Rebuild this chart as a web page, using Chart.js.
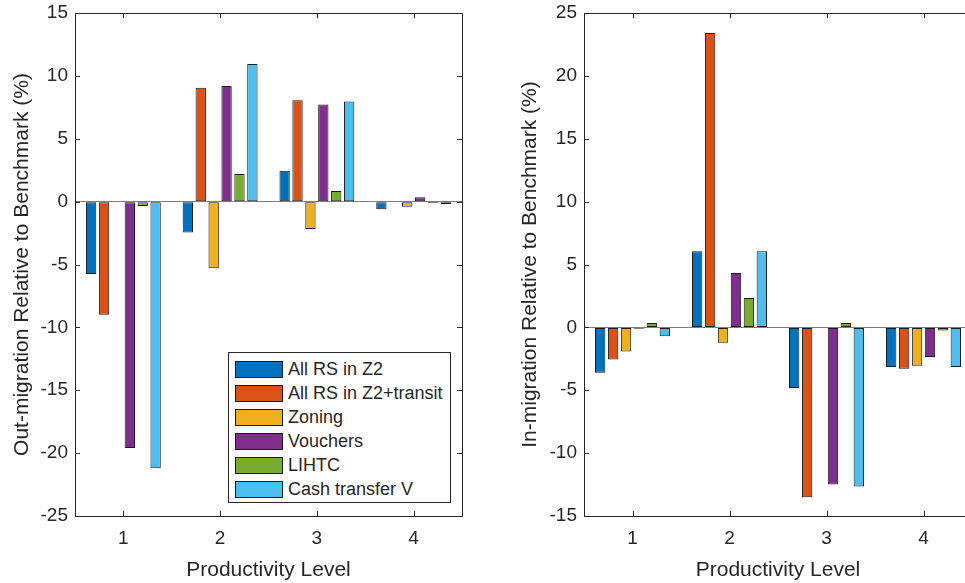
<!DOCTYPE html>
<html lang="en">
<head>
    <meta charset="UTF-8">
    <title>Migration Relative to Benchmark</title>
    <script src="https://cdn.jsdelivr.net/npm/chart.js"></script>
    <style>
        html, body { margin: 0; padding: 0; background: #fff; overflow: hidden; }
        body { width: 965px; height: 583px; position: relative; font-family: 'Liberation Sans', Arial, sans-serif; }
        .panel { position: absolute; top: 0; height: 583px; }
        #leftPanel { left: 0; width: 475px; }
        #rightPanel { left: 490px; width: 500px; }
        #legend {
            position: absolute; left: 228px; top: 352px; width: 223px; height: 151px;
            border: 1px solid #262626; background: #fff; box-sizing: border-box; padding-top: 4px;
        }
        .row { display: flex; align-items: center; height: 24px; }
        .swatch { width: 48px; height: 17px; margin-left: 6px; border: 1px solid #1a1a1a; box-sizing: border-box; }
        .label { margin-left: 5px; font-size: 18px; color: #262626; white-space: nowrap; }
    </style>
</head>
<body>
    <div class="panel" id="leftPanel"><canvas id="outChart"></canvas></div>
    <div class="panel" id="rightPanel"><canvas id="inChart"></canvas></div>
    <div id="legend"></div>

    <script>
        // --- DATA ---
        const levels = ['1', '2', '3', '4'];
        const seriesNames = ['All RS in Z2', 'All RS in Z2+transit', 'Zoning', 'Vouchers', 'LIHTC', 'Cash transfer V'];
        const seriesColors = ['#0072BD', '#D95319', '#EDB120', '#7E2F8E', '#77AC30', '#4DBEEE'];

        // out-migration (left panel)
        const outAllRS    = [-5.75, -2.45, 2.45, -0.6];
        const outTransit  = [-9.0, 9.05, 8.07, -0.05];
        const outZoning   = [-0.05, -5.3, -2.17, -0.4];
        const outVouchers = [-19.6, 9.2, 7.72, 0.35];
        const outLihtc    = [-0.35, 2.2, 0.85, -0.1];
        const outCash     = [-21.2, 10.95, 7.96, -0.18];

        // in-migration (right panel)
        const inAllRS    = [-3.6, 6.05, -4.82, -3.15];
        const inTransit  = [-2.55, 23.4, -13.5, -3.29];
        const inZoning   = [-1.91, -1.22, -0.05, -3.05];
        const inVouchers = [-0.1, 4.33, -12.49, -2.36];
        const inLihtc    = [0.35, 2.34, 0.35, -0.24];
        const inCash     = [-0.71, 6.05, -12.65, -3.15];

        const outTicks = { min: -25, max: 15, step: 5 };
        const inTicks  = { min: -15, max: 25, step: 5 };

        // --- STYLE ---
        const FONT = "'Liberation Sans', Arial, sans-serif";
        const INK = '#262626';

        // MATLAB-like box with inward ticks on all four sides
        const boxPlugin = {
            id: 'box',
            afterDraw(chart) {
                const { ctx, chartArea: a, scales } = chart;
                const len = 5;
                ctx.save();
                ctx.strokeStyle = INK;
                ctx.lineWidth = 1;
                ctx.beginPath();
                ctx.rect(Math.round(a.left) + 0.5, Math.round(a.top) + 0.5,
                         Math.round(a.right - a.left), Math.round(a.bottom - a.top));
                scales.x.ticks.forEach((t, i) => {
                    const x = Math.round(scales.x.getPixelForTick(i)) + 0.5;
                    ctx.moveTo(x, a.bottom); ctx.lineTo(x, a.bottom - len);
                    ctx.moveTo(x, a.top); ctx.lineTo(x, a.top + len);
                });
                scales.y.ticks.forEach((t, i) => {
                    const y = Math.round(scales.y.getPixelForTick(i)) + 0.5;
                    ctx.moveTo(a.left, y); ctx.lineTo(a.left + len, y);
                    ctx.moveTo(a.right, y); ctx.lineTo(a.right - len, y);
                });
                ctx.stroke();
                ctx.restore();
            }
        };

        function makeDatasets(values) {
            return values.map((data, i) => ({
                label: seriesNames[i],
                data: data,
                backgroundColor: seriesColors[i],
                borderColor: '#1a1a1a',
                borderWidth: 1,
                borderSkipped: false,
                categoryPercentage: 0.8,
                barPercentage: 0.8
            }));
        }

        function buildChart(canvasId, values, yRange, yTitle, opts) {
            const ctx = document.getElementById(canvasId).getContext('2d');
            return new Chart(ctx, {
                type: 'bar',
                data: { labels: levels, datasets: makeDatasets(values) },
                options: {
                    responsive: true,
                    maintainAspectRatio: false,
                    animation: false,
                    layout: { padding: { top: 13, right: opts.rightPad, bottom: 0, left: 0 } },
                    plugins: { legend: { display: false }, tooltip: { enabled: false } },
                    scales: {
                        x: {
                            grid: { display: false, drawTicks: false },
                            border: { display: false },
                            ticks: { color: INK, font: { family: FONT, size: 19 }, padding: 11 },
                            title: { display: true, text: 'Productivity Level', color: INK,
                                     font: { family: FONT, size: 21 }, padding: { top: 1, bottom: 0 } },
                            afterFit: s => { s.height = 67; s.paddingLeft = 0; s.paddingRight = 0; }
                        },
                        y: {
                            min: yRange.min, max: yRange.max,
                            grid: {
                                drawTicks: false,
                                color: c => c.tick && c.tick.value === 0 ? '#7f7f7f' : 'rgba(0,0,0,0)'
                            },
                            border: { display: false },
                            ticks: { stepSize: yRange.step, color: INK, font: { family: FONT, size: 19 }, padding: 7 },
                            title: { display: true, text: yTitle, color: INK,
                                     font: { family: FONT, size: 21 }, padding: { top: opts.titlePad, bottom: 0 } },
                            afterFit: s => { s.width = opts.axisWidth; s.paddingTop = 0; s.paddingBottom = 0; }
                        }
                    }
                },
                plugins: [boxPlugin]
            });
        }

        buildChart('outChart',
            [outAllRS, outTransit, outZoning, outVouchers, outLihtc, outCash],
            outTicks, 'Out-migration Relative to Benchmark (%)',
            { axisWidth: 75, rightPad: 13, titlePad: 10 });

        buildChart('inChart',
            [inAllRS, inTransit, inZoning, inVouchers, inLihtc, inCash],
            inTicks, 'In-migration Relative to Benchmark (%)',
            { axisWidth: 94, rightPad: 18, titlePad: 28 });

        // legend drawn as real text inside the left panel
        const legend = document.getElementById('legend');
        seriesNames.forEach((name, i) => {
            const row = document.createElement('div');
            row.className = 'row';
            row.innerHTML = `<div class="swatch" style="background:${seriesColors[i]}"></div><div class="label">${name}</div>`;
            legend.appendChild(row);
        });
    </script>
</body>
</html>
